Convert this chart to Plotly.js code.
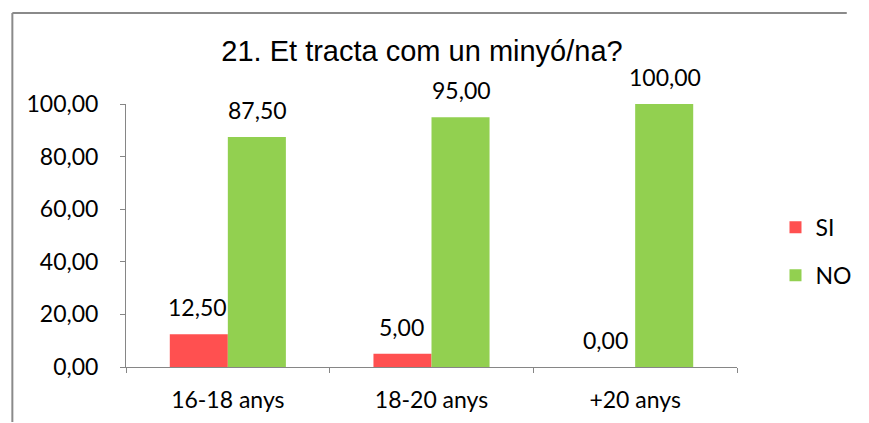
<!DOCTYPE html>
<html>
<head>
<meta charset="utf-8">
<script src="https://cdn.plot.ly/plotly-3.0.1.min.js"></script>
<style>
  html, body { margin: 0; padding: 0; background: #fff; overflow: hidden; width: 869px; height: 423px; }
  #chart { width: 869px; height: 423px; overflow: hidden; }
  #chart svg { overflow: hidden; }
</style>
</head>
<body>
<div id="chart"></div>
<script>
const categories = ["16-18 anys", "18-20 anys", "+20 anys"];
const siValues = [12.5, 5, 0];
const noValues = [87.5, 95, 100];
const seriesNames = ["SI", "NO"];
const yTicks = [0, 20, 40, 60, 80, 100];
const chartTitle = "21. Et tracta com un minyó/na?";

const colSI = "#FF5050";
const colNO = "#92D050";
const axisCol = "#868686";
const frameCol = "#8a8a8a";
const labelFont = { family: "Lato, 'Noto Sans', sans-serif", size: 23, color: "#000" };

const W = 869, H = 423;
const margin = { l: 126, r: 114, t: 104, b: 56, pad: 0 };
const bargap = 0.43;
const plotW = W - margin.l - margin.r;
const plotH = H - margin.t - margin.b;
const barW = plotW / categories.length * (1 - bargap) / 2;

// chart frame (left and top edges of the outer chart border), in pixels
const frameLeftPx = 9, frameTopPx = 13;
const fx0 = (frameLeftPx - margin.l) / plotW;
const fx1 = (W - 1 - margin.l) / plotW;
const fyTop = 1 + (margin.t - frameTopPx) / plotH;
const fyBot = -(margin.b - 1) / plotH;

function fmt(v) { return v.toFixed(2).replace(".", ","); }

const traces = [
  { type: "bar", name: seriesNames[0], x: categories, y: siValues,
    marker: { color: colSI }, legendgroup: "a", hoverinfo: "skip" },
  { type: "bar", name: seriesNames[1], x: categories, y: noValues,
    marker: { color: colNO }, legendgroup: "b", hoverinfo: "skip" }
];

const annotations = [];
[siValues, noValues].forEach((vals, si) => {
  vals.forEach((v, i) => {
    annotations.push({
      x: categories[i], y: v, xref: "x", yref: "y",
      text: fmt(v), showarrow: false,
      xshift: (si === 0 ? -1 : 1) * barW / 2,
      yshift: 27, yanchor: "middle", xanchor: "center",
      font: labelFont
    });
  });
});

const layout = {
  width: W, height: H, margin: margin,
  paper_bgcolor: "#fff", plot_bgcolor: "#fff",
  separators: ",.",
  barmode: "group", bargap: bargap, bargroupgap: 0,
  title: { text: chartTitle, x: 421 / W, xanchor: "center", y: 1 - 51 / H, yanchor: "middle",
           xref: "paper", yref: "container",
           font: { family: "'Liberation Sans', Arial, sans-serif", size: 29, color: "#000" } },
  xaxis: {
    type: "category", tickson: "boundaries", ticks: "outside", ticklen: 5, tickcolor: axisCol,
    showline: true, linecolor: axisCol, linewidth: 1, showgrid: false, zeroline: false,
    tickfont: labelFont, ticklabelstandoff: 12, fixedrange: true
  },
  yaxis: {
    range: [0, 100], tickvals: yTicks, tickformat: ".2f",
    ticks: "outside", ticklen: 5, tickcolor: axisCol,
    showline: true, linecolor: axisCol, linewidth: 1, showgrid: false, zeroline: false,
    tickfont: labelFont, ticklabelstandoff: 17, fixedrange: true
  },
  showlegend: true,
  legend: {
    x: 1.063, xanchor: "left", y: 0.613, yanchor: "top",
    font: labelFont, traceorder: "grouped", tracegroupgap: 15,
    bgcolor: "rgba(0,0,0,0)", borderwidth: 0
  },
  shapes: [
    { type: "line", xref: "paper", yref: "paper", x0: fx0, x1: fx0, y0: fyTop, y1: fyBot,
      line: { color: frameCol, width: 2 }, layer: "above" },
    { type: "line", xref: "paper", yref: "paper", x0: fx0, x1: fx1, y0: fyTop, y1: fyTop,
      line: { color: frameCol, width: 2 }, layer: "above" }
  ],
  annotations: annotations
};

Plotly.newPlot("chart", traces, layout, { displayModeBar: false, staticPlot: true });
</script>
</body>
</html>
